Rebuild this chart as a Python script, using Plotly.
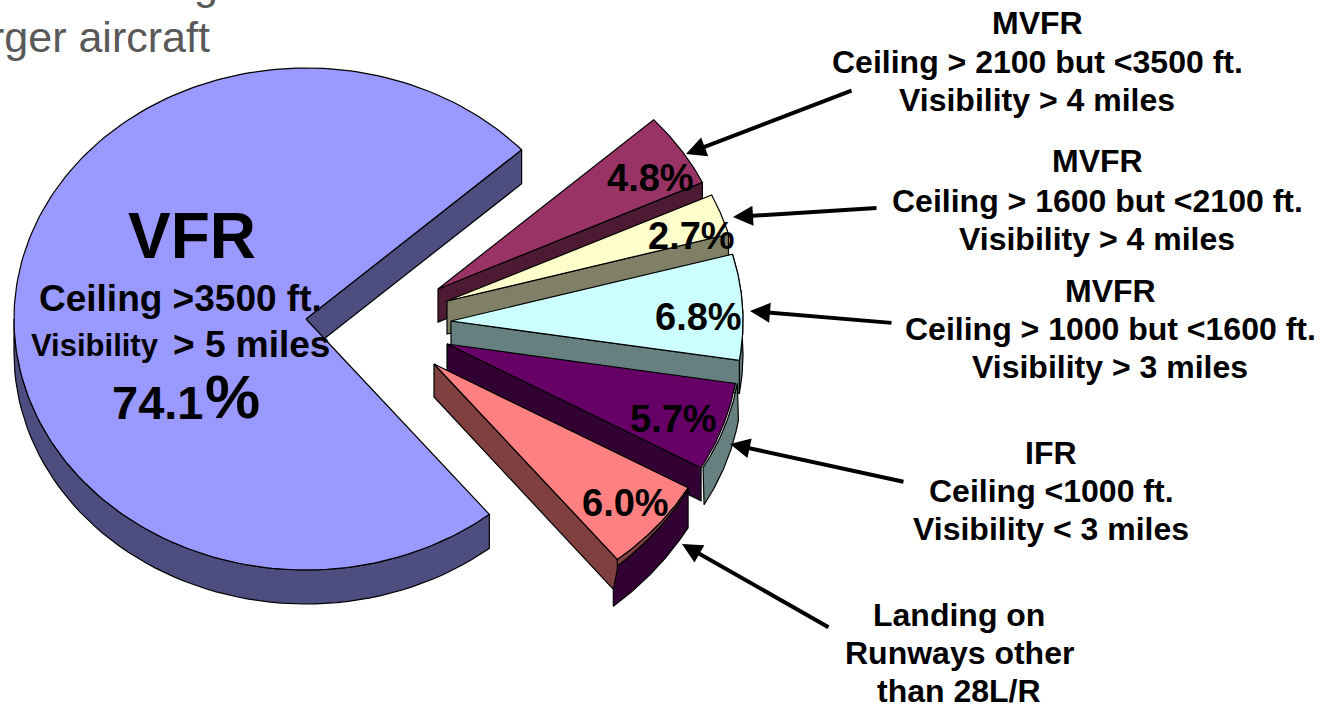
import numpy as np
import plotly.graph_objects as go

# ---- data ----
labels = ["VFR", "MVFR 2100-3500", "MVFR 1600-2100", "MVFR 1000-1600", "IFR", "Other runways"]
values = [74.1, 4.8, 2.7, 6.8, 5.7, 6.0]
pct_text = ["74.1%", "4.8%", "2.7%", "6.8%", "5.7%", "6.0%"]
face_colors = ["#9999FF", "#993366", "#FFFFCC", "#CCFFFF", "#660066", "#FF8080"]
wall_colors = ["#4D4D80", "#4D1A33", "#808066", "#668080", "#330033", "#804040"]

# ---- pie geometry (pixel-scaled axes) ----
CX, CY = 306, 319
RX, RY = 292, 251
DEPTH = 34
explode_dx = [0, 132, 141, 145, 141, 128]
explode_dy = [0, -30, -18, 2, 25, 45]
START_ANGLE = 42.4   # degrees; first small slice starts here, clockwise

total = sum(values)
small = values[1:]
sweeps = [v / total * 360 for v in small]
ends = list(START_ANGLE - np.cumsum(sweeps))
starts = [START_ANGLE] + ends[:-1]

fig = go.Figure()


def arc(cx, cy, a1, a2, n=60):
    t = np.radians(np.linspace(a1, a2, n))
    return cx + RX * np.cos(t), cy - RY * np.sin(t)


def poly(x, y, fill, lw=1.2):
    fig.add_trace(go.Scatter(
        x=list(x) + [x[0]], y=list(y) + [y[0]], mode="lines", fill="toself",
        fillcolor=fill, line=dict(color="black", width=lw),
        hoverinfo="skip", showlegend=False))


# main slice: sweeps from the start angle counter-clockwise the long way round
main_a1 = START_ANGLE
main_a2 = START_ANGLE + values[0] / total * 360
ax, ay = arc(CX, CY, 180, main_a2)
poly(np.r_[ax, ax[::-1]], np.r_[ay, ay[::-1] + DEPTH], wall_colors[0])
ux, uy = arc(CX, CY, main_a1, main_a1, 1)
poly([CX, ux[0], ux[0], CX], [CY, uy[0], uy[0] + DEPTH, CY + DEPTH], wall_colors[0])
fx, fy = arc(CX, CY, main_a1, main_a2, 200)
poly(np.r_[CX, fx], np.r_[CY, fy], face_colors[0])

# exploded slices, back to front
for i, (a1, a2) in enumerate(zip(starts, ends)):
    k = i + 1
    ox, oy = CX + explode_dx[k], CY + explode_dy[k]
    x, y = arc(ox, oy, a1, a2)
    d = DEPTH - 1
    if k == 3:
        # outer wall of the 6.8% slice: only a thin piece shows
        poly(np.r_[x, x[::-1]], np.r_[y, y[::-1] + d], wall_colors[k])
    if k == 4:
        # outer wall of this slice takes the neighbour's colour
        poly(np.r_[x + 2, x[::-1] + 3], np.r_[y, y[::-1] + d + 4], wall_colors[3])
    if k == 5:
        lip = np.linspace(0, 1, len(x))
        poly(np.r_[x, (x - 4 * lip)[::-1]], np.r_[y, (y + 3 + 7 * lip)[::-1]], wall_colors[5])
        poly(np.r_[x - 4 * lip, (x - 4 * lip)[::-1]],
             np.r_[y + 3 + 7 * lip, (y + 3 + 7 * lip + 37)[::-1]], wall_colors[4])
    # lower radial wall
    if k == 5:
        poly([ox, x[-1], x[-1], x[-1] - 4, ox], [oy, y[-1], y[-1] + 10, y[-1] + 30, oy + d], wall_colors[k])
    else:
        poly([ox, x[-1], x[-1], ox], [oy, y[-1], y[-1] + d, oy + d], wall_colors[k])
    poly(np.r_[ox, x], np.r_[oy, y], face_colors[k])

# ---- text ----
SANS = "Liberation Sans, Arial, sans-serif"


def note(x, y, text, size, color="black", bold=True, anchor="center"):
    fig.add_annotation(x=x, y=y, text=f"<b>{text}</b>" if bold else text, showarrow=False,
                       xanchor=anchor, yanchor="middle", xref="x", yref="y",
                       font=dict(family=SANS, size=size, color=color))


# cut-off slide title behind the chart
note(212, 37, "rger aircraft", 43, color="#595959", bold=False, anchor="right")
fig.add_annotation(x=206, y=1 + 16 / 705, xref="x", yref="paper", text="g", showarrow=False,
                   xanchor="center", yanchor="middle",
                   font=dict(family=SANS, size=43, color="#595959"))

# labels inside the big slice
note(192, 236, labels[0], 64)
note(180, 298, "Ceiling &gt;3500 ft.", 37)
note(161, 345, "Visibility", 31, anchor="right")
note(332, 344, "&gt; 5 miles", 37, anchor="right")
note(205, 402, "74.1", 47, anchor="right")
note(203, 396, "%", 62, anchor="left")

# percentage labels
pct_pos = [None, (650, 178), (691, 236), (698, 317), (673, 419), (625, 503)]
for k in range(1, 6):
    note(pct_pos[k][0], pct_pos[k][1], pct_text[k], 38)

# callouts
callouts = [
    (1037, [(23, "MVFR"), (62, "Ceiling &gt; 2100 but &lt;3500 ft."), (100, "Visibility &gt; 4 miles")]),
    (1097, [(161, "MVFR"), (201, "Ceiling &gt; 1600 but &lt;2100 ft."), (239, "Visibility &gt; 4 miles")]),
    (1110, [(291, "MVFR"), (329, "Ceiling &gt; 1000 but &lt;1600 ft."), (367, "Visibility &gt; 3 miles")]),
    (1051, [(453, "IFR"), (491, "Ceiling &lt;1000 ft."), (529, "Visibility &lt; 3 miles")]),
    (959, [(615, "Landing on"), (653, "Runways other"), (691, "than 28L/R")]),
]
for cx, lines in callouts:
    for y, t in lines:
        note(cx, y, t, 32)

arrows = [
    (853, 90, 686, 154),
    (878, 208, 733, 217),
    (893, 323, 750, 311),
    (905, 482, 730, 444),
    (830, 628, 682, 544),
]
for x0, y0, x1, y1 in arrows:
    fig.add_annotation(x=x1, y=y1, ax=x0, ay=y0, xref="x", yref="y", axref="x", ayref="y",
                       text="", showarrow=True, arrowhead=2, arrowsize=1, arrowwidth=4,
                       arrowcolor="black")

fig.update_layout(
    width=1330, height=705, margin=dict(l=0, r=0, t=0, b=0),
    paper_bgcolor="white", plot_bgcolor="white", showlegend=False,
    xaxis=dict(range=[0, 1330], visible=False, fixedrange=True),
    yaxis=dict(range=[705, 0], visible=False, fixedrange=True),
)
fig.write_html("out.html", config={"displayModeBar": False},
               post_script="document.body.style.margin='0';document.body.style.overflow='hidden';")
